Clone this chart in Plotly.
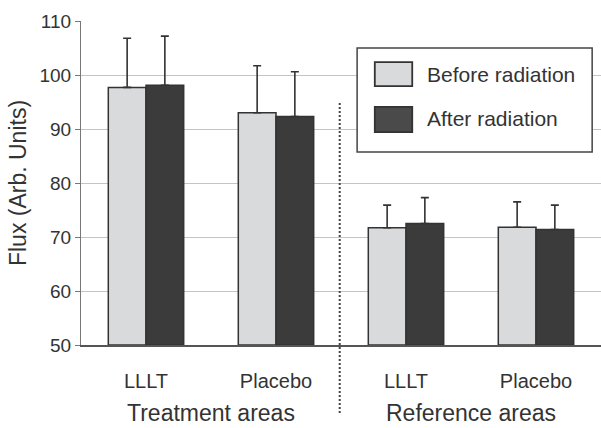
import plotly.graph_objects as go

groups = ["LLLT", "Placebo", "LLLT", "Placebo"]
area_labels = ["Treatment areas", "Reference areas"]
series_names = ["Before radiation", "After radiation"]
before_vals = [97.7, 93.0, 71.7, 71.8]
before_err = [9.1, 8.7, 4.2, 4.7]
after_vals = [98.1, 92.3, 72.5, 71.4]
after_err = [9.1, 8.3, 4.8, 4.5]
y_ticks = [50, 60, 70, 80, 90, 100, 110]

x = list(range(len(groups)))
FONT = "Arial, Liberation Sans, sans-serif"
EDGE = "#333333"
C_BEFORE = "#d9dadc"
C_AFTER = "#3b3b3b"
TXT = "#333333"

fig = go.Figure()
for name, vals, errs, col in [(series_names[0], before_vals, before_err, C_BEFORE),
                              (series_names[1], after_vals, after_err, C_AFTER)]:
    fig.add_trace(go.Bar(
        x=x, y=[v - 50 for v in vals], base=50, name=name,
        marker=dict(color=col, line=dict(color=EDGE, width=1.5)),
        error_y=dict(type="data", symmetric=False, array=errs,
                     arrayminus=[0] * len(errs), color=EDGE, thickness=1.6, width=4),
        showlegend=False,
    ))

fig.update_layout(
    width=601, height=428,
    margin=dict(l=81, r=0, t=21, b=83),
    paper_bgcolor="white", plot_bgcolor="white",
    barmode="group", bargap=0.42, bargroupgap=0,
    font=dict(family=FONT, color=TXT),
    xaxis=dict(range=[-0.5, 3.5], tickvals=x, ticktext=groups,
               showgrid=False, zeroline=False, showline=True,
               linecolor="#555555", linewidth=1.5, ticks="",
               tickfont=dict(size=20, color=TXT),
               ticklabelstandoff=17),
    yaxis=dict(range=[50, 110], tickvals=y_ticks, showgrid=True,
               gridcolor="#c4c4c4", gridwidth=1.2, zeroline=False,
               showline=True, linecolor="#777777", linewidth=1.2,
               ticks="outside", ticklen=5, tickcolor="#777777",
               tickfont=dict(size=19, color=TXT),
               title=dict(text="Flux (Arb. Units)", font=dict(size=23, color=TXT),
                          standoff=6)),
)

shapes = [
    dict(type="line", xref="x", yref="paper", x0=1.49, x1=1.49, y0=0.747, y1=-0.213,
         line=dict(color="#444444", width=2, dash="2px,2px")),
    dict(type="rect", xref="paper", yref="paper", x0=0.531, x1=0.983, y0=0.596, y1=0.917,
         fillcolor="white", line=dict(color="#444444", width=1.5), layer="above"),
    dict(type="rect", xref="paper", yref="paper", x0=0.565, x1=0.637, y0=0.799, y1=0.873,
         fillcolor=C_BEFORE, line=dict(color=EDGE, width=1.8), layer="above"),
    dict(type="rect", xref="paper", yref="paper", x0=0.565, x1=0.637, y0=0.657, y1=0.735,
         fillcolor="#4a4a4a", line=dict(color=EDGE, width=1.8), layer="above"),
]
fig.update_layout(shapes=shapes)

for text, yy in [(series_names[0], 0.836), (series_names[1], 0.698)]:
    fig.add_annotation(text=text, xref="paper", yref="paper", x=0.662, y=yy,
                       xanchor="left", yanchor="middle", showarrow=False,
                       font=dict(size=21, color=TXT))

for lbl, cx in zip(area_labels, [0.5, 2.5]):
    fig.add_annotation(text=lbl, xref="x", yref="paper", x=cx, y=-0.21,
                       xanchor="center", yanchor="middle", showarrow=False,
                       font=dict(size=23, color=TXT))

fig.write_html("out.html", config={"displayModeBar": False},
               post_script="document.body.style.margin='0';document.body.style.overflow='hidden';")
